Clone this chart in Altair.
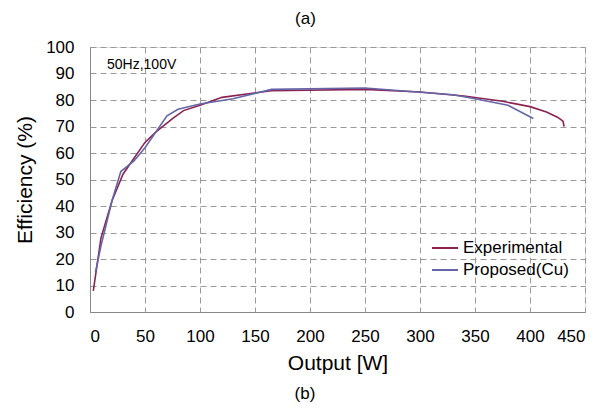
import altair as alt
import pandas as pd

exp_x = [3, 10, 20, 30, 40, 50, 60, 75, 85, 100, 120, 165, 250, 300, 340, 375, 400, 415, 425, 430, 431]
exp_y = [8, 28, 42, 52, 58, 64, 68, 73, 76, 78, 81, 83.5, 84, 83, 81.5, 79.5, 77.5, 75.5, 73.5, 72, 70]
pro_x = [5, 10, 20, 28, 40, 50, 70, 80, 100, 130, 165, 250, 330, 350, 380, 403]
pro_y = [15, 25, 42, 53, 57, 62, 74, 76.5, 78.5, 80.5, 84, 84.5, 82, 80.5, 78, 73]
series = ["Experimental", "Proposed(Cu)"]
colors = ["#8B2252", "#6466A8"]

df = pd.concat([
    pd.DataFrame({"x": exp_x, "y": exp_y, "s": series[0], "o": range(len(exp_x))}),
    pd.DataFrame({"x": pro_x, "y": pro_y, "s": series[1], "o": range(len(pro_x))}),
])

FONT = "Liberation Sans"

lines = alt.Chart(df).mark_line(strokeWidth=1.6).encode(
    x=alt.X("x:Q", scale=alt.Scale(domain=[0, 450], nice=False),
            axis=alt.Axis(title="Output [W]", values=list(range(0, 451, 50)), labelFontSize=17,
                          titleFontSize=21, titleFontWeight="normal", labelPadding=16, titlePadding=8,
                          ticks=False, gridDash=[6, 4], gridColor="#999999", domainColor="#888888",
                          labelColor="#000000", titleColor="#000000")),
    y=alt.Y("y:Q", scale=alt.Scale(domain=[0, 100], nice=False),
            axis=alt.Axis(title="Efficiency (%)", values=list(range(0, 101, 10)), labelFontSize=17,
                          titleFontSize=21, titleFontWeight="normal", ticks=False, labelPadding=16,
                          titlePadding=10, gridDash=[6, 4], gridColor="#999999", domainColor="#888888",
                          labelColor="#000000", titleColor="#000000")),
    color=alt.Color("s:N", scale=alt.Scale(domain=series, range=colors),
                    legend=alt.Legend(title=None, orient="none", legendX=341, legendY=187,
                                      symbolType="stroke", symbolStrokeWidth=2, symbolSize=676,
                                      labelFontSize=17, labelFont=FONT, rowPadding=0, labelOffset=4,
                                      labelColor="#000000")),
    order="o:Q",
)

note = alt.Chart(pd.DataFrame({"t": ["50Hz,100V"]})).mark_text(
    align="left", baseline="middle", fontSize=14, font=FONT, color="#000000"
).encode(text="t:N", x=alt.value(17), y=alt.value(18))

bottom = alt.Chart(pd.DataFrame({"t": ["(b)"]})).mark_text(
    align="center", baseline="middle", fontSize=17, font=FONT, color="#000000"
).encode(text="t:N", x=alt.value(215), y=alt.value(347))

chart = alt.layer(lines, note, bottom).properties(
    width=495, height=265,
    title=alt.TitleParams("(a)", fontSize=17, font=FONT, fontWeight="normal", offset=10, dx=-32,
                          color="#000000"),
    autosize=alt.AutoSizeParams(type="none"),
    padding={"left": 82, "top": 39, "right": 12, "bottom": 92},
).configure_view(stroke="#888888").configure(font=FONT)

chart.save("out.html", embed_options={"renderer": "svg", "actions": False})
